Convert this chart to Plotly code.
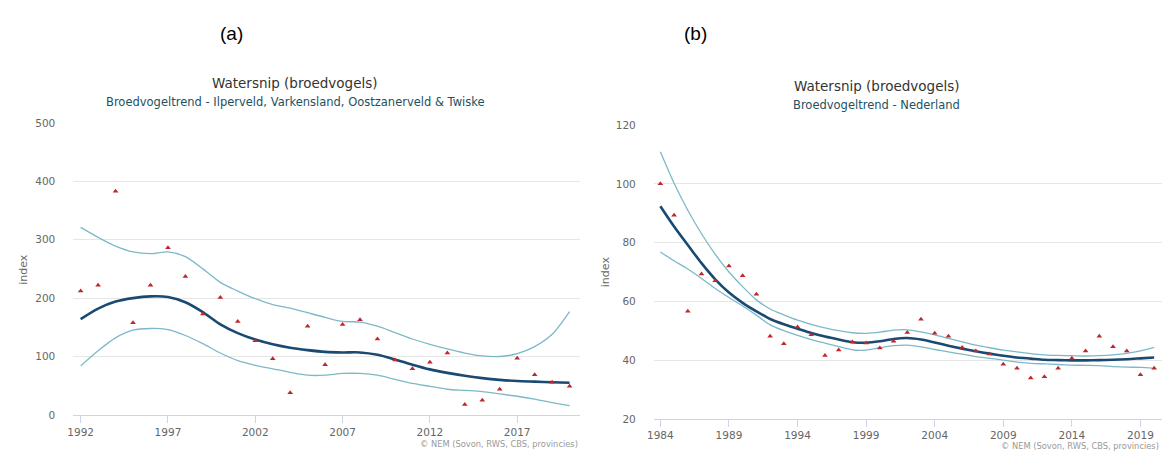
import plotly.graph_objects as go

W, H = 1163, 456

# ---- Panel (a): Ilperveld, Varkensland, Oostzanerveld & Twiske ----
years_a = list(range(1992, 2021))
index_a = [212, 222, 383, 158, 222, 286, 237, 173, 201, 160, 127, 96, 38, 152, 86,
           155, 163, 130, 94, 79, 90, 106, 18, 25, 44, 97, 69, 56, 49]
trend_a = [164, 182, 194, 200, 203, 202, 193, 176, 155, 140, 129, 121, 115, 111, 108,
           107, 107, 103, 95, 86, 78, 72, 67, 63, 60, 58, 57, 56, 55]
upper_a = [321, 304, 289, 279, 276, 279, 271, 250, 227, 212, 199, 189, 183, 175, 167,
           160, 159, 152, 141, 130, 121, 113, 106, 101, 100, 105, 117, 138, 177]
lower_a = [84, 110, 132, 145, 148, 146, 136, 122, 106, 93, 85, 79, 73, 68, 68,
           71, 71, 68, 61, 54, 49, 44, 42, 40, 36, 32, 27, 21, 16]
ticks_a = [1992, 1997, 2002, 2007, 2012, 2017]

# ---- Panel (b): Nederland ----
years_b = list(range(1984, 2021))
index_b = [100, 89.3, 56.6, 69.3, 67.0, 72.0, 68.7, 62.4, 48.1, 45.6, 51.3, 48.6, 41.6,
           43.4, 46.2, 45.8, 44.1, 46.4, 49.4, 53.9, 49.1, 48.1, 44.3, 43.1, 42.1, 38.6,
           37.2, 33.9, 34.3, 37.2, 40.6, 43.1, 48.1, 44.5, 43.1, 35.0, 37.2]
trend_b = [92.4, 85.5, 79.2, 73.0, 67.5, 63.0, 59.5, 56.6, 54.0, 52.2, 50.7, 49.2, 48.0,
           47.0, 46.1, 45.9, 46.4, 47.2, 47.5, 47.0, 46.0, 44.9, 43.9, 43.0, 42.2, 41.5,
           40.9, 40.5, 40.1, 40.0, 39.9, 39.9, 40.0, 40.1, 40.3, 40.6, 40.9]
upper_b = [110.9, 100.2, 91.0, 83.0, 76.0, 70.0, 65.0, 60.5, 57.4, 55.4, 53.6, 52.2, 51.0,
           50.0, 49.3, 49.1, 49.5, 50.2, 50.3, 49.6, 48.6, 47.4, 46.2, 45.1, 44.2, 43.4,
           42.8, 42.2, 41.8, 41.6, 41.5, 41.4, 41.5, 41.8, 42.3, 43.1, 44.3]
lower_b = [76.8, 73.8, 71.0, 67.8, 64.4, 61.3, 58.4, 55.3, 52.0, 50.0, 48.4, 47.0, 45.8,
           44.6, 43.5, 43.4, 44.2, 44.9, 45.1, 44.5, 43.6, 42.8, 42.0, 41.2, 40.6, 40.0,
           39.3, 38.9, 38.7, 38.5, 38.3, 38.2, 38.1, 37.8, 37.6, 37.5, 37.2]
ticks_b = [1984, 1989, 1994, 1999, 2004, 2009, 2014, 2019]

TREND = "#1a4a72"
BAND = "#7cb9c8"
POINT = "#c0262d"
FONT = "DejaVu Sans"


def px_x(p):
    return p / W


def px_y(p):
    return 1 - p / H


fig = go.Figure()


def add_panel(xref, yref, years, idx, trend, upper, lower):
    common = dict(xaxis=xref, yaxis=yref, showlegend=False, hoverinfo="skip")
    fig.add_trace(go.Scatter(x=years, y=upper, mode="lines",
                             line=dict(color=BAND, width=1.3, shape="spline", smoothing=0.8),
                             **common))
    fig.add_trace(go.Scatter(x=years, y=lower, mode="lines",
                             line=dict(color=BAND, width=1.3, shape="spline", smoothing=0.8),
                             **common))
    fig.add_trace(go.Scatter(x=years, y=trend, mode="lines",
                             line=dict(color=TREND, width=2.6, shape="spline", smoothing=0.8),
                             **common))
    fig.add_trace(go.Scatter(x=years, y=idx, mode="markers",
                             marker=dict(symbol="triangle-up", size=5, color=POINT),
                             **common))


add_panel("x", "y", years_a, index_a, trend_a, upper_a, lower_a)
add_panel("x2", "y2", years_b, index_b, trend_b, upper_b, lower_b)

xcommon = dict(showgrid=False, zeroline=False, showline=True, linecolor="#ccd6eb",
               linewidth=1, ticks="outside", tickcolor="#ccd6eb", ticklen=7,
               tickfont=dict(family=FONT, size=10.5, color="#666666"))
ycommon = dict(showgrid=True, gridcolor="#e6e6e6", gridwidth=1, zeroline=False,
               showline=False, ticks="", ticklabelstandoff=17,
               tickfont=dict(family=FONT, size=10.5, color="#666666"))

fig.update_layout(
    width=W, height=H,
    margin=dict(l=0, r=0, t=0, b=0),
    paper_bgcolor="white", plot_bgcolor="white",
    xaxis=dict(domain=[px_x(66.7), px_x(576)], range=[1991.58, 2020.57],
               tickvals=ticks_a, anchor="y", **xcommon),
    yaxis=dict(domain=[px_y(420), px_y(120)], range=[0, 500], dtick=100,
               anchor="x", **ycommon),
    xaxis2=dict(domain=[px_x(650.7), px_x(1161.7)], range=[1983.52, 2020.55],
                tickvals=ticks_b, anchor="y2", **xcommon),
    yaxis2=dict(domain=[px_y(424), px_y(122.3)], range=[20, 120], dtick=20,
                anchor="x2", **ycommon),
)

annotations = []


def text(x, y, s, size, color, family=FONT, angle=0, xanchor="center"):
    annotations.append(dict(x=px_x(x), y=px_y(y), xref="paper", yref="paper", text=s,
                            showarrow=False, xanchor=xanchor, yanchor="middle",
                            textangle=angle, borderpad=0,
                            font=dict(family=family, size=size, color=color)))


# panel letters
text(226, 28, "(a)", 19, "#000000", family="Liberation Sans")
text(693, 28, "(b)", 19, "#000000", family="Liberation Sans")

# titles and subtitles
text(290, 79, "Watersnip (broedvogels)", 13.5, "#333333")
text(290, 99, "Broedvogeltrend - Ilperveld, Varkensland, Oostzanerveld &amp; Twiske", 11.5, "#24505e")
text(875, 82, "Watersnip (broedvogels)", 13.5, "#333333")
text(875, 102, "Broedvogeltrend - Nederland", 11.5, "#24505e")

# y-axis titles
text(17, 270, "index", 11, "#666666", angle=-90)
text(602, 273, "index", 11, "#666666", angle=-90)

# credits
text(575, 450, "© NEM (Sovon, RWS, CBS, provincies)", 8.3, "#999999", xanchor="right")
text(1160, 452, "© NEM (Sovon, RWS, CBS, provincies)", 8.3, "#999999", xanchor="right")

fig.update_layout(annotations=annotations)

fig.write_html("out.html")
